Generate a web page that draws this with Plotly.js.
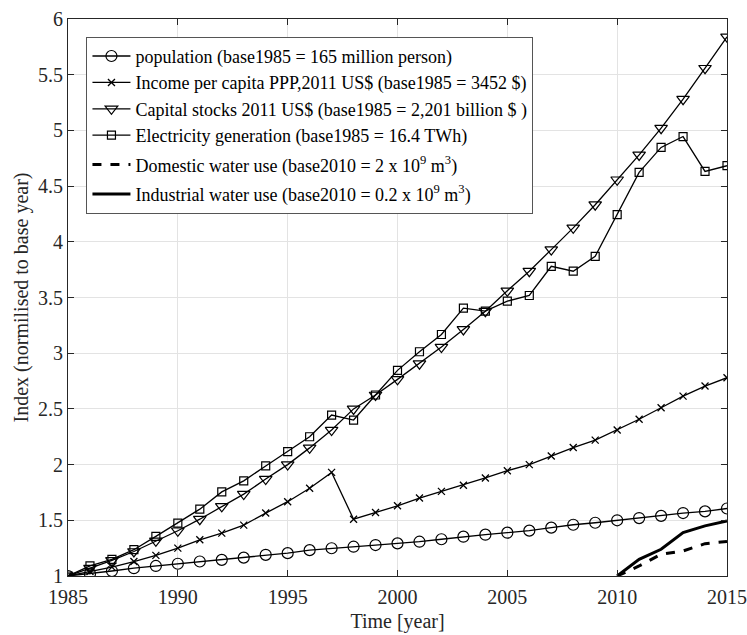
<!DOCTYPE html>
<html>
<head>
<meta charset="utf-8">
<script src="https://cdn.plot.ly/plotly-3.0.1.min.js"></script>
<style>html,body{margin:0;padding:0;background:#fff;}#chart{width:747px;height:635px;}</style>
</head>
<body>
<div id="chart"></div>
<script>
const years = [1985,1986,1987,1988,1989,1990,1991,1992,1993,1994,1995,1996,1997,1998,1999,2000,2001,2002,2003,2004,2005,2006,2007,2008,2009,2010,2011,2012,2013,2014,2015];
const population = [1.0,1.02,1.045,1.07,1.09,1.11,1.13,1.145,1.165,1.19,1.205,1.232,1.249,1.263,1.278,1.293,1.308,1.33,1.353,1.371,1.389,1.407,1.434,1.46,1.478,1.5,1.52,1.54,1.565,1.58,1.606];
const income = [1.0,1.04,1.08,1.13,1.185,1.25,1.325,1.385,1.457,1.565,1.667,1.787,1.93,1.51,1.57,1.63,1.70,1.76,1.815,1.88,1.945,2.0,2.077,2.153,2.22,2.31,2.407,2.51,2.615,2.705,2.78];
const capital = [1.0,1.07,1.14,1.22,1.316,1.406,1.51,1.625,1.735,1.87,2.0,2.15,2.31,2.5,2.625,2.765,2.906,3.055,3.213,3.377,3.56,3.736,3.93,4.125,4.333,4.557,4.78,5.02,5.28,5.558,5.84];
const electricity = [1.0,1.09,1.15,1.236,1.356,1.475,1.6,1.755,1.854,1.988,2.116,2.25,2.445,2.40,2.625,2.846,3.013,3.168,3.404,3.377,3.467,3.518,3.78,3.736,3.87,4.244,4.623,4.847,4.945,4.632,4.683];
const waterYears = [2010,2011,2012,2013,2014,2015];
const domestic = [1.0,1.09,1.195,1.225,1.29,1.31];
const industrial = [1.0,1.15,1.24,1.39,1.45,1.495];
const names = [
  'population (base1985 = 165 million person)',
  'Income per capita PPP,2011 US$ (base1985 = 3452 $)',
  'Capital stocks 2011 US$ (base1985 = 2,201 billion $ )',
  'Electricity generation (base1985 = 16.4 TWh)',
  'Domestic water use (base2010 = 2 x 10<sup>9</sup> m<sup>3</sup>)',
  'Industrial water use (base2010 = 0.2 x 10<sup>9</sup> m<sup>3</sup>)'
];
const xTicks = [1985,1990,1995,2000,2005,2010,2015];
const yTicks = [1,1.5,2,2.5,3,3.5,4,4.5,5,5.5,6];
const yTickText = ['1','1.5','2','2.5','3','3.5','4','4.5','5','5.5','6'];

const FAM = 'Liberation Serif, Times New Roman, serif';
const lineBase = {color:'#000', width:1.3};
const traces = [
  {x:years, y:population, name:names[0], legendgroup:'a', mode:'lines+markers', line:lineBase,
   marker:{symbol:'circle-open', size:11, color:'#000', line:{width:1.2,color:'#000'}}},
  {x:years, y:income, name:names[1], legendgroup:'a', mode:'lines+markers', line:lineBase,
   marker:{symbol:'x-thin-open', size:7, color:'#000', line:{width:1.3,color:'#000'}}},
  {x:years, y:capital, name:names[2], legendgroup:'a', mode:'lines+markers', line:lineBase,
   marker:{symbol:'triangle-down-open', size:11, color:'#000', line:{width:1.2,color:'#000'}}},
  {x:years, y:electricity, name:names[3], legendgroup:'a', mode:'lines+markers', line:lineBase,
   marker:{symbol:'square-open', size:8, color:'#000', line:{width:1.2,color:'#000'}}},
  {x:waterYears, y:domestic, name:names[4], legendgroup:'b', mode:'lines', line:{color:'#000', width:3, dash:'dash'}},
  {x:waterYears, y:industrial, name:names[5], legendgroup:'c', mode:'lines', line:{color:'#000', width:3}}
];

const layout = {
  width:747, height:635,
  margin:{l:68, r:20, t:19, b:59},
  paper_bgcolor:'#fff', plot_bgcolor:'#fff',
  font:{family:FAM, size:20, color:'#262626'},
  showlegend:true,
  legend:{x:0.028, y:0.968, xanchor:'left', yanchor:'top', bgcolor:'#fff',
    bordercolor:'#555', borderwidth:1, font:{family:FAM, size:18, color:'#000'},
    tracegroupgap:3, itemwidth:38},
  xaxis:{range:[1985,2015], tickvals:xTicks, ticktext:xTicks.map(String),
    showgrid:true, gridcolor:'#e3e3e3', gridwidth:1, zeroline:false,
    showline:true, linecolor:'#262626', linewidth:1, mirror:'ticks',
    ticks:'inside', ticklen:6, tickcolor:'#262626', ticklabelstandoff:3,
    tickfont:{family:FAM, size:20, color:'#262626'},
    title:{text:'Time [year]', font:{family:FAM, size:20, color:'#262626'}, standoff:6}},
  yaxis:{range:[1,6], tickvals:yTicks, ticktext:yTickText,
    showgrid:true, gridcolor:'#e3e3e3', gridwidth:1, zeroline:false,
    showline:true, linecolor:'#262626', linewidth:1, mirror:'ticks',
    ticks:'inside', ticklen:6, tickcolor:'#262626',
    tickfont:{family:FAM, size:20, color:'#262626'},
    title:{text:'Index (normilised to base year)', font:{family:FAM, size:20, color:'#262626'}, standoff:4}}
};
Plotly.newPlot('chart', traces, layout, {displayModeBar:false, staticPlot:true});
</script>
</body>
</html>
